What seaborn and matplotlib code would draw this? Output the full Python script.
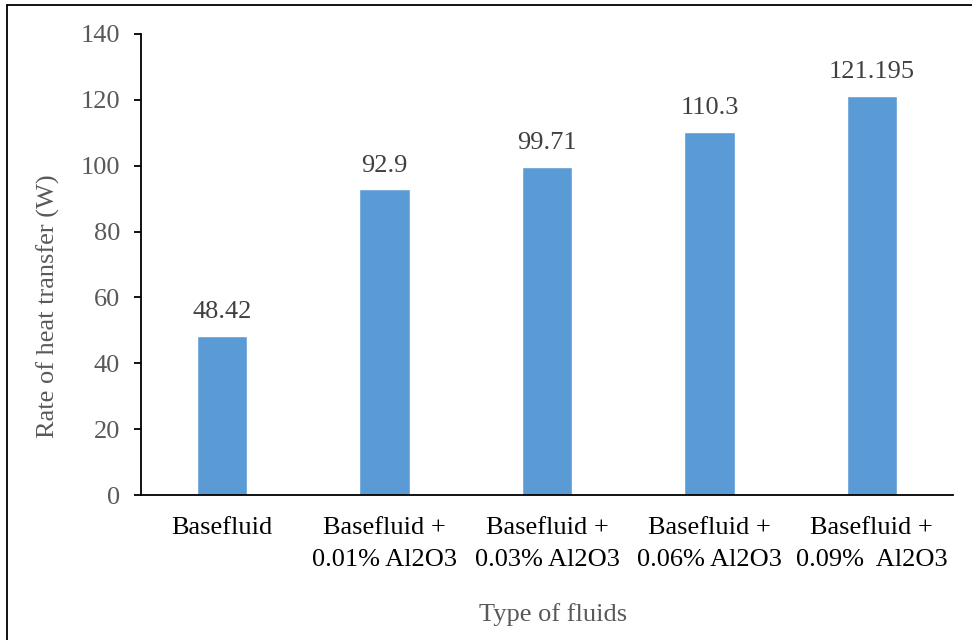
import matplotlib
matplotlib.use("Agg")
import matplotlib.pyplot as plt
from matplotlib.lines import Line2D
import seaborn as sns
import pandas as pd

# Fluid types (x categories) and measured heat transfer rates (W)
categories = [
    "Basefluid",
    "Basefluid +\n0.01% Al2O3",
    "Basefluid +\n0.03% Al2O3",
    "Basefluid +\n0.06% Al2O3",
    "Basefluid +\n0.09%  Al2O3",
]
heat_rate = [48.42, 92.9, 99.71, 110.3, 121.195]
value_labels = ["48.42", "92.9", "99.71", "110.3", "121.195"]
y_ticks = [0, 20, 40, 60, 80, 100, 120, 140]

sns.set_theme(style="white")
plt.rcParams["font.family"] = ["Liberation Serif", "DejaVu Serif"]

W, H = 972, 640
fig = plt.figure(figsize=(W / 100, H / 100), dpi=100)
ax_left, ax_right, ax_top, ax_bottom = 141, 953, 34, 495
ax = fig.add_axes([ax_left / W, 1 - ax_bottom / H,
                   (ax_right - ax_left) / W, (ax_bottom - ax_top) / H])

df = pd.DataFrame({"fluid": categories, "rate": heat_rate})
sns.barplot(data=df, x="fluid", y="rate", color="#5B9BD5", saturation=1,
            width=0.31, ax=ax)

ax.set_xlim(-0.5, len(categories) - 0.5)
ax.set_ylim(0, 140)
ax.set_yticks(y_ticks)
ax.set_yticklabels([str(t) for t in y_ticks])

# Value annotations above the bars
ax.bar_label(ax.containers[0], labels=value_labels, padding=9,
             fontsize=19, color="#404040")

# Axes styling
sns.despine(ax=ax)
for side in ("left", "bottom"):
    ax.spines[side].set_color("black")
    ax.spines[side].set_linewidth(1.3)
ax.tick_params(axis="y", direction="out", length=5, width=1.3,
               color="black", labelsize=19, labelcolor="#595959", pad=10, left=True)
ax.tick_params(axis="x", length=0, labelsize=19, labelcolor="black", pad=16)
for lbl in ax.get_xticklabels():
    lbl.set_linespacing(1.55)

ax.set_xlabel("Type of fluids", fontsize=19, color="#595959", va="center")
ax.xaxis.set_label_coords((553 - ax_left) / (ax_right - ax_left),
                          -(615 - ax_bottom) / (ax_bottom - ax_top))
ax.set_ylabel("Rate of heat transfer (W)", fontsize=19, color="#595959", va="center")
ax.yaxis.set_label_coords((48 - ax_left) / (ax_right - ax_left),
                          (ax_bottom - 306) / (ax_bottom - ax_top))

# Chart frame along the left and top edges
fig.add_artist(Line2D([7 / W, 7 / W], [0, 1 - 5 / H], transform=fig.transFigure,
                      color="black", lw=1.3))
fig.add_artist(Line2D([7 / W, 1], [1 - 5 / H, 1 - 5 / H], transform=fig.transFigure,
                      color="black", lw=1.3))

fig.savefig("out.png", dpi=100)
